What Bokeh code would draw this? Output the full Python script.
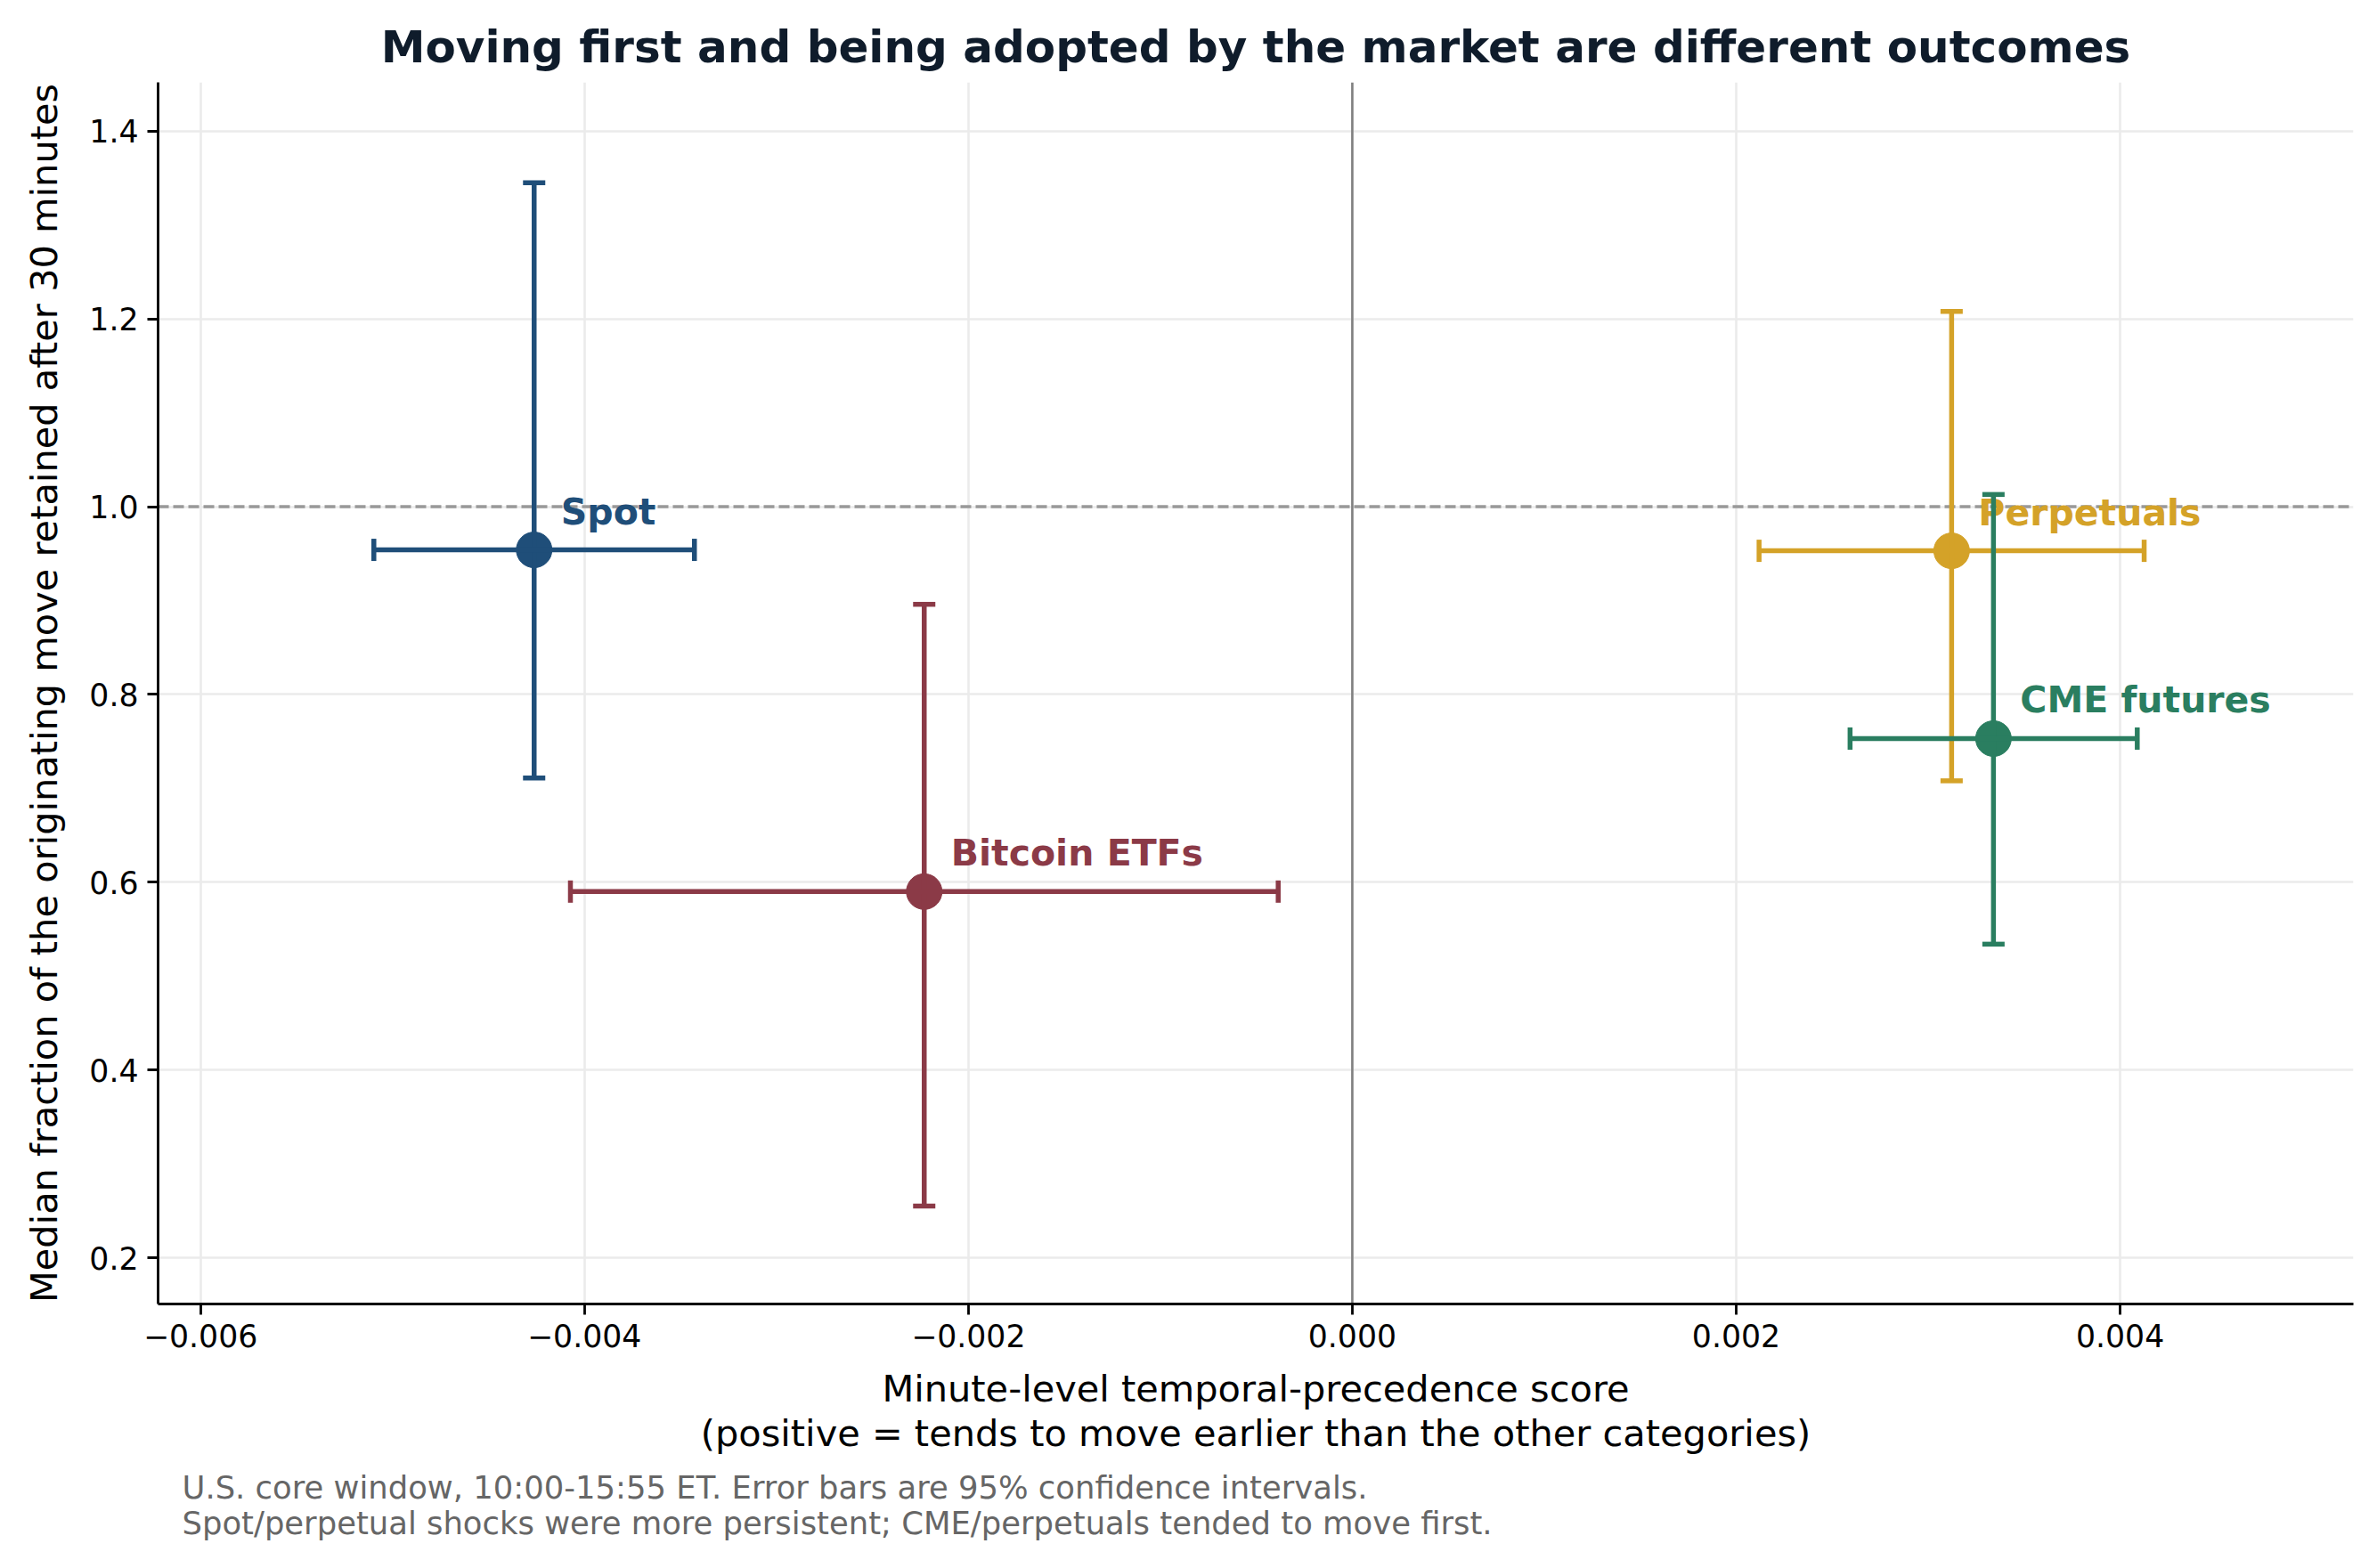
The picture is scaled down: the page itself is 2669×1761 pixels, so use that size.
from bokeh.plotting import figure
from bokeh.models import (Whisker, TeeHead, ColumnDataSource, Span, Range1d,
                          FixedTicker, CustomJSTickFormatter, Title)
from bokeh.core.properties import value
from bokeh.embed import file_html
from bokeh.resources import INLINE

# ---- data ----
categories = ["Spot", "Bitcoin ETFs", "Perpetuals", "CME futures"]
score = [-0.004262, -0.00223, 0.003122, 0.00334]
score_lo = [-0.005097, -0.004073, 0.002119, 0.002593]
score_hi = [-0.003427, -0.000386, 0.004125, 0.004089]
retained = [0.954, 0.590, 0.953, 0.753]
retained_lo = [0.711, 0.255, 0.708, 0.534]
retained_hi = [1.345, 0.896, 1.208, 1.013]
colors = ["#1f4e79", "#8b3a47", "#d4a228", "#2a7e60"]
x_ticks = [-0.006, -0.004, -0.002, 0.0, 0.002, 0.004]
y_ticks = [0.2, 0.4, 0.6, 0.8, 1.0, 1.2, 1.4]

title_text = "Moving first and being adopted by the market are different outcomes"
x_label = "Minute-level temporal-precedence score\n(positive = tends to move earlier than the other categories)"
y_label = "Median fraction of the originating move retained after 30 minutes"
footnote = ("U.S. core window, 10:00-15:55 ET. Error bars are 95% confidence intervals.\n"
            "Spot/perpetual shocks were more persistent; CME/perpetuals tended to move first.")

FONT = "DejaVu Sans"

p = figure(width=2661, height=1753, output_backend="svg", toolbar_location=None,
           x_range=Range1d(-0.006221, 0.005215), y_range=Range1d(0.1507, 1.452),
           min_border_left=177, min_border_right=19, min_border_top=92,
           min_border_bottom=289)
p.outline_line_color = None
p.background_fill_color = "white"
p.border_fill_color = "white"

# title
p.title.text = title_text
p.title.align = "center"
p.title.text_font = FONT
p.title.text_font_size = "50px"
p.title.text_font_style = "bold"
p.title.text_color = "#0f1c2b"
p.title.standoff = 21

# axes
p.xaxis.ticker = FixedTicker(ticks=x_ticks)
p.yaxis.ticker = FixedTicker(ticks=y_ticks)
p.xaxis.formatter = CustomJSTickFormatter(
    code="return (tick < -1e-12 ? '\u2212' : '') + Math.abs(tick).toFixed(3);")
p.yaxis.formatter = CustomJSTickFormatter(code="return tick.toFixed(1);")
for ax in (p.xaxis, p.yaxis):
    ax.axis_line_color = "black"
    ax.axis_line_width = 2.8
    ax.major_tick_line_color = "black"
    ax.major_tick_line_width = 2.8
    ax.major_tick_out = 12
    ax.major_tick_in = 0
    ax.minor_tick_line_color = None
    ax.major_label_text_font = FONT
    ax.major_label_text_font_size = "34.7px"
    ax.major_label_text_color = "black"
    ax.major_label_standoff = 10
    ax.axis_label_text_font = FONT
    ax.axis_label_text_font_size = "41.5px"
    ax.axis_label_text_font_style = "normal"
    ax.axis_label_text_color = "black"
p.xaxis.axis_label = x_label
p.yaxis.axis_label = y_label
p.xaxis.axis_label_standoff = 19
p.xaxis.axis_label_text_line_height = 1.03
p.yaxis.axis_label_standoff = 23

p.xgrid.grid_line_color = "#ebebeb"
p.ygrid.grid_line_color = "#ebebeb"
p.xgrid.grid_line_width = 2.6
p.ygrid.grid_line_width = 2.6

p.add_layout(Span(location=0.0, dimension="height", line_color="#808080",
                  line_width=2.6, level="underlay"))
p.add_layout(Span(location=1.0, dimension="width", line_color="#999999",
                  line_width=3.4, line_dash="12 5", level="underlay"))

for i, name in enumerate(categories):
    src = ColumnDataSource(data=dict(
        x=[score[i]], y=[retained[i]], xlo=[score_lo[i]], xhi=[score_hi[i]],
        ylo=[retained_lo[i]], yhi=[retained_hi[i]], label=[name]))
    c = colors[i]
    wy = Whisker(source=src, base="x", lower="ylo", upper="yhi", dimension="height",
                 line_color=c, line_width=5.5, level="glyph",
                 upper_head=TeeHead(size=25, line_color=c, line_width=5.5),
                 lower_head=TeeHead(size=25, line_color=c, line_width=5.5))
    wx = Whisker(source=src, base="y", lower="xlo", upper="xhi", dimension="width",
                 line_color=c, line_width=5.5, level="glyph",
                 upper_head=TeeHead(size=25, line_color=c, line_width=5.5),
                 lower_head=TeeHead(size=25, line_color=c, line_width=5.5))
    p.add_layout(wy)
    p.add_layout(wx)
    p.scatter("x", "y", source=src, size=40, fill_color=c, line_color=c,
              line_width=1, level="glyph")
    p.text("x", "y", text="label", source=src, x_offset=30, y_offset=-43,
           text_color=c, text_font=value(FONT), text_font_size="41px",
           text_font_style="bold", text_align="left", text_baseline="alphabetic",
           level="glyph")

p.add_layout(Title(text=footnote, align="left", offset=27, text_font=FONT,
                   text_font_size="35.4px", text_font_style="normal",
                   text_line_height=0.99, text_color="#666666", standoff=22), "below")

open("out.html", "w").write(file_html(p, INLINE))
